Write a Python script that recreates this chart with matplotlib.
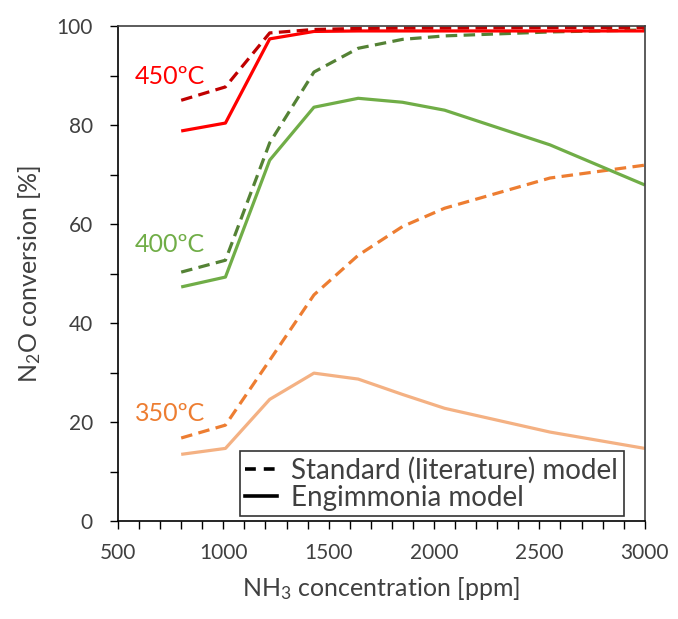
import matplotlib.pyplot as plt
from matplotlib.lines import Line2D
from matplotlib.ticker import MultipleLocator

plt.rcParams["font.family"] = ["Lato", "DejaVu Sans"]
plt.rcParams["mathtext.fontset"] = "custom"
plt.rcParams["mathtext.rm"] = "Lato"
plt.rcParams["mathtext.it"] = "Lato:italic"

# NH3 feed concentration [ppm]
nh3_ppm = [800, 1010, 1220, 1430, 1640, 1850, 2050, 2550, 3000]

# N2O conversion [%] - standard (literature) kinetics
std_350 = [16.8, 19.4, 32.5, 45.7, 53.7, 59.5, 63.2, 69.3, 71.9]
std_400 = [50.3, 52.7, 76.4, 90.7, 95.5, 97.3, 98.0, 98.8, 99.2]
std_450 = [85.0, 87.7, 98.6, 99.3, 99.5, 99.6, 99.6, 99.7, 99.7]

# N2O conversion [%] - Engimmonia kinetics
eng_350 = [13.5, 14.7, 24.6, 29.9, 28.7, 25.6, 22.8, 18.0, 14.7]
eng_400 = [47.3, 49.3, 72.9, 83.6, 85.4, 84.6, 83.0, 76.0, 67.9]
eng_450 = [78.8, 80.4, 97.4, 98.9, 99.0, 99.0, 99.0, 99.0, 99.0]

temp_labels = ["350ºC", "400ºC", "450ºC"]
label_y = [21.8, 55.8, 89.9]

series = [
    (std_350, eng_350, "#ED7D31", "#F4B183", "#ED7D31"),
    (std_400, eng_400, "#548235", "#70AD47", "#70AD47"),
    (std_450, eng_450, "#C00000", "#FF0000", "#FF0000"),
]
text_grey = "#404040"

fig = plt.figure(figsize=(6.78, 6.19), dpi=100)
ax = fig.add_axes([0.174, 0.158, 0.777, 0.800])

lw = 2.3
dash = (3.6, 2.0)
for (std, eng, c_std, c_eng, c_txt), name, ly in zip(series, temp_labels, label_y):
    ax.plot(nh3_ppm, eng, color=c_eng, lw=lw, solid_capstyle="butt")
    ax.plot(nh3_ppm, std, color=c_std, lw=lw, linestyle=(0, dash), dash_capstyle="butt")
    ax.text(580, ly, name, color=c_txt, fontsize=18, ha="left", va="center")

ax.set_xlim(500, 3000)
ax.set_ylim(0, 100)
ax.xaxis.set_major_locator(MultipleLocator(500))
ax.xaxis.set_minor_locator(MultipleLocator(100))
ax.yaxis.set_major_locator(MultipleLocator(20))
ax.yaxis.set_minor_locator(MultipleLocator(10))
ax.tick_params(which="both", direction="out", labelsize=15, color="black",
               labelcolor=text_grey, width=1.0, length=6)
ax.tick_params(axis="x", which="major", pad=10)
ax.tick_params(axis="y", which="major", pad=12)
for sp in ax.spines.values():
    sp.set_linewidth(1.2)
ax.spines["top"].set_color("#404040")
ax.spines["right"].set_color("#404040")

ax.set_xlabel("NH$_3$ concentration [ppm]", fontsize=18, color=text_grey, labelpad=8)
ax.set_ylabel("N$_2$O conversion [%]", fontsize=18, color=text_grey, labelpad=10)

handles = [
    Line2D([], [], color="black", lw=lw + 0.3, linestyle=(0, (3.0, 2.2))),
    Line2D([], [], color="black", lw=lw + 0.3),
]
leg = ax.legend(handles, ["Standard (literature) model", "Engimmonia model"],
                loc="lower right", bbox_to_anchor=(0.960, 0.010), fontsize=20,
                frameon=True, fancybox=False, handlelength=1.15, handletextpad=0.5,
                borderpad=0.2, labelspacing=0.05, borderaxespad=0.0)
leg.get_frame().set_edgecolor("black")
leg.get_frame().set_linewidth(1.2)
for t in leg.get_texts():
    t.set_color(text_grey)

fig.savefig("out.png", dpi=100)
